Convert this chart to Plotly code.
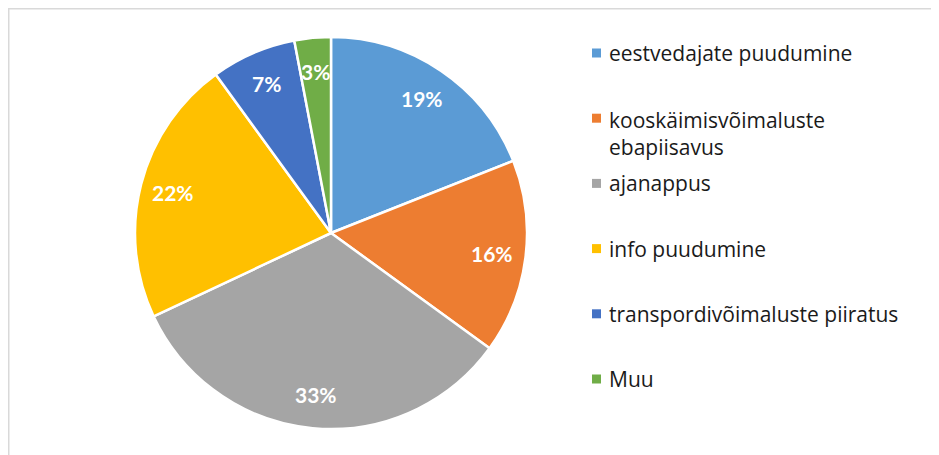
import math
import plotly.graph_objects as go

labels = ["eestvedajate puudumine", "kooskäimisvõimaluste<br>ebapiisavus", "ajanappus",
          "info puudumine", "transpordivõimaluste piiratus", "Muu"]
values = [19, 16, 33, 22, 7, 3]
colors = ["#5B9BD5", "#ED7D31", "#A5A5A5", "#FFC000", "#4472C4", "#70AD47"]

W, H = 939, 455
OFF = 8  # page body margin
cx, cy, R = 331 - OFF, 233 - OFF, 196  # pixel geometry of the pie (figure coords)

fig = go.Figure()
fig.add_trace(go.Pie(
    labels=labels, values=values, sort=False, direction="clockwise", rotation=0,
    marker=dict(colors=colors, line=dict(color="white", width=2.5)),
    textinfo="none", hoverinfo="label+percent", showlegend=False,
    domain=dict(x=[(cx - R) / W, (cx + R) / W], y=[(H - cy - R) / H, (H - cy + R) / H]),
))

annotations = []
shapes = []
total = sum(values)
cum = 0
for v in values:
    mid = (cum + v / 2) / total
    cum += v
    th = 2 * math.pi * mid
    rr = 0.83 * R
    px = cx + rr * math.sin(th)
    py = cy - rr * math.cos(th)
    annotations.append(dict(
        x=px / W, y=1 - py / H, xref="paper", yref="paper", showarrow=False,
        text=f"{round(100 * v / total)}%", xanchor="center", yanchor="middle",
        font=dict(family="Lato", size=21, color="white", weight="bold"),
    ))

# legend
for i, (lab, col) in enumerate(zip(labels, colors)):
    sy = 53 - OFF + 65.2 * i
    shapes.append(dict(type="rect", xref="paper", yref="paper",
                       x0=(592 - OFF) / W, x1=(601 - OFF) / W,
                       y0=1 - (sy - 4.5) / H, y1=1 - (sy + 4.5) / H,
                       fillcolor=col, line=dict(width=0)))
    nlines = lab.count("<br>") + 1
    ty = sy + (nlines - 1) * 15
    annotations.append(dict(
        x=(607 - OFF) / W, y=1 - ty / H, xref="paper", yref="paper", showarrow=False,
        text=lab, xanchor="left", yanchor="middle", align="left",
        font=dict(family="Open Sans", size=21, color="#1A1A1A"),
    ))

# chart area border (partially visible)
shapes.append(dict(type="line", xref="paper", yref="paper", x0=0, x1=1.01,
                   y0=1 - 0.75 / H, y1=1 - 0.75 / H, line=dict(color="#D9D9D9", width=1.5)))
shapes.append(dict(type="line", xref="paper", yref="paper", x0=0.75 / W, x1=0.75 / W,
                   y0=1, y1=-0.01, line=dict(color="#D9D9D9", width=1.5)))

fig.update_layout(
    width=W, height=H, margin=dict(l=0, r=0, t=0, b=0),
    paper_bgcolor="white", plot_bgcolor="white",
    annotations=annotations, shapes=shapes,
)
fig.write_html("out.html")
